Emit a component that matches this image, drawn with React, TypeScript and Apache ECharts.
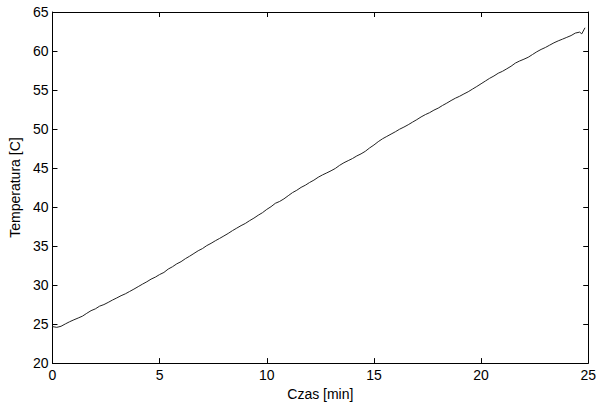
import React, { useEffect, useRef } from "react";
import * as echarts from "echarts";

const timeMin: number[] = [
  0, 0.2, 0.4, 0.6, 0.8, 1.0, 1.2, 1.4, 1.6, 1.8, 2.0, 2.2, 2.4, 2.6, 2.8, 3.0, 3.2, 3.4, 3.6, 3.8,
  4.0, 4.2, 4.4, 4.6, 4.8, 5.0, 5.2, 5.4, 5.6, 5.8, 6.0, 6.2, 6.4, 6.6, 6.8, 7.0, 7.2, 7.4, 7.6, 7.8,
  8.0, 8.2, 8.4, 8.6, 8.8, 9.0, 9.2, 9.4, 9.6, 9.8, 10.0, 10.2, 10.4, 10.6, 10.8, 11.0, 11.2, 11.4, 11.6, 11.8,
  12.0, 12.2, 12.4, 12.6, 12.8, 13.0, 13.2, 13.4, 13.6, 13.8, 14.0, 14.2, 14.4, 14.6, 14.8, 15.0, 15.2, 15.4, 15.6, 15.8,
  16.0, 16.2, 16.4, 16.6, 16.8, 17.0, 17.2, 17.4, 17.6, 17.8, 18.0, 18.2, 18.4, 18.6, 18.8, 19.0, 19.2, 19.4, 19.6, 19.8,
  20.0, 20.2, 20.4, 20.6, 20.8, 21.0, 21.2, 21.4, 21.6, 21.8, 22.0, 22.2, 22.4, 22.6, 22.8, 23.0, 23.2, 23.4, 23.6, 23.8,
  24.0, 24.2, 24.4, 24.6, 24.7, 24.85,
];

const temperatureC: number[] = [
  24.68, 24.58, 24.72, 25.02, 25.3, 25.55, 25.78, 26.02, 26.38, 26.72, 26.95, 27.3, 27.5, 27.78, 28.08, 28.35, 28.64, 28.88, 29.18, 29.48,
  29.8, 30.12, 30.42, 30.76, 31.02, 31.35, 31.62, 32.05, 32.35, 32.72, 33.0, 33.38, 33.7, 34.05, 34.4, 34.68, 35.06, 35.35, 35.68, 35.98,
  36.3, 36.62, 36.98, 37.3, 37.62, 37.9, 38.26, 38.58, 38.95, 39.28, 39.7, 40.05, 40.48, 40.72, 41.05, 41.45, 41.85, 42.15, 42.52, 42.8,
  43.15, 43.45, 43.82, 44.12, 44.38, 44.65, 44.95, 45.35, 45.68, 45.95, 46.22, 46.55, 46.82, 47.15, 47.58, 47.95, 48.38, 48.75, 49.05, 49.35,
  49.65, 49.98, 50.25, 50.55, 50.88, 51.2, 51.55, 51.85, 52.1, 52.42, 52.68, 53.02, 53.32, 53.65, 53.95, 54.2, 54.5, 54.78, 55.12, 55.45,
  55.8, 56.15, 56.5, 56.8, 57.15, 57.4, 57.72, 58.05, 58.45, 58.72, 58.95, 59.2, 59.55, 59.9, 60.2, 60.45, 60.75, 61.05, 61.3, 61.52,
  61.75, 61.98, 62.3, 62.42, 62.2, 62.98,
];

const xTitle = "Czas [min]";
const yTitle = "Temperatura [C]";

const FONT = "Liberation Sans, Arial, Helvetica, sans-serif";

export default function App() {
  const ref = useRef<HTMLDivElement>(null);
  useEffect(() => {
    if (!ref.current) return;
    const chart = echarts.init(ref.current, undefined, { renderer: "svg" });
    const axisLine = { show: true, onZero: false, lineStyle: { color: "#000", width: 1 } };
    const tick = { show: true, inside: true, length: 5, lineStyle: { color: "#000", width: 1 } };
    const label = { color: "#000", fontSize: 14, fontFamily: FONT };
    chart.setOption({
      animation: false,
      backgroundColor: "#fff",
      grid: { left: 52, right: 9, top: 12, bottom: 38, containLabel: false },
      xAxis: [
        {
          type: "value",
          min: 0,
          max: 25,
          interval: 5,
          position: "bottom",
          axisLine,
          axisTick: tick,
          axisLabel: { ...label, margin: 5 },
          splitLine: { show: false },
          name: xTitle,
          nameLocation: "middle",
          nameGap: 20,
          nameTextStyle: { color: "#000", fontSize: 14, fontFamily: FONT },
        },
        {
          type: "value",
          min: 0,
          max: 25,
          interval: 5,
          position: "top",
          axisLine,
          axisTick: tick,
          axisLabel: { show: false },
          splitLine: { show: false },
        },
      ],
      yAxis: [
        {
          type: "value",
          min: 20,
          max: 65,
          interval: 5,
          position: "left",
          axisLine,
          axisTick: tick,
          axisLabel: { ...label, margin: 4 },
          splitLine: { show: false },
          name: yTitle,
          nameLocation: "middle",
          nameGap: 27,
          nameTextStyle: { color: "#000", fontSize: 14, fontFamily: FONT },
        },
        {
          type: "value",
          min: 20,
          max: 65,
          interval: 5,
          position: "right",
          axisLine,
          axisTick: tick,
          axisLabel: { show: false },
          splitLine: { show: false },
        },
      ],
      series: [
        {
          type: "line",
          data: timeMin.map((t, i) => [t, temperatureC[i]]),
          showSymbol: false,
          lineStyle: { color: "#222", width: 1 },
          xAxisIndex: 0,
          yAxisIndex: 0,
        },
      ],
    });
    return () => chart.dispose();
  }, []);
  return <div ref={ref} style={{ width: 599, height: 406, position: "absolute", left: 0, top: 0 }} />;
}
